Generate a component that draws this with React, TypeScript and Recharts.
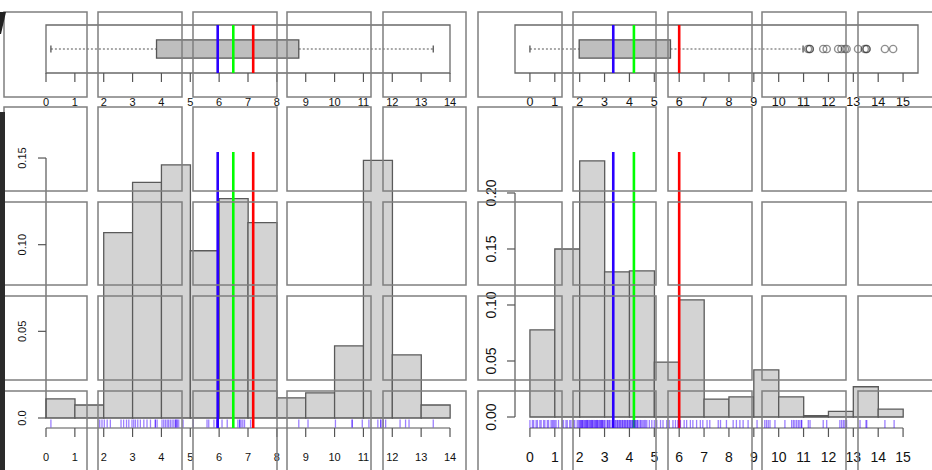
import {
  ComposedChart, Bar, Scatter, XAxis, YAxis, ReferenceLine, ReferenceArea
} from "recharts";

// ---- data ----
const binsLeft = ["0", "1", "2", "3", "4", "5", "6", "7", "8", "9", "10", "11", "12", "13"];
const densLeft = [0.011, 0.0075, 0.107, 0.136, 0.146, 0.0965, 0.1266, 0.1127, 0.0116, 0.0145, 0.0416, 0.1486, 0.0364, 0.0075];

const binsRight = ["0", "1", "2", "3", "4", "5", "6", "7", "8", "9", "10", "11", "12", "13", "14"];
const densRight = [0.0777, 0.15, 0.2286, 0.1295, 0.1304, 0.049, 0.1045, 0.016, 0.018, 0.042, 0.018, 0.0012, 0.005, 0.027, 0.007];

const xTicksLeft = [0, 1, 2, 3, 4, 5, 6, 7, 8, 9, 10, 11, 12, 13, 14];
const xTicksRight = [0, 1, 2, 3, 4, 5, 6, 7, 8, 9, 10, 11, 12, 13, 14, 15];

const yTicksLeft = [0, 0.05, 0.1, 0.15];
const yLabelsLeft = ["0.0", "0.05", "0.10", "0.15"];
const yTicksRight = [0, 0.05, 0.1, 0.15, 0.2];
const yLabelsRight = ["0.00", "0.05", "0.10", "0.15", "0.20"];

// whisker low, q1, q3, whisker high
const boxLeft = [0.17, 3.83, 8.76, 13.42];
const boxRight = [0.0, 1.98, 5.65, 10.98];
const outliersRight = [11.18, 11.25, 11.25, 11.79, 11.93, 12.39, 12.52, 12.66, 12.73, 13.19, 13.46, 13.53, 13.53, 14.27, 14.6];

// blue, green, red markers
const marksLeft = [5.95, 6.49, 7.18];
const marksRight = [3.35, 4.18, 6.0];
const markColors = ["#2a00ff", "#00ff00", "#ff0000"];

const rugLeft = [
  0.17, 1.86, 1.94, 2.02, 2.12, 2.23, 2.6, 2.69, 2.79, 2.87, 2.98, 3.04, 3.1, 3.18, 3.27,
  3.39, 3.5, 3.62, 3.79, 3.79, 3.85, 4.02, 4.08, 4.14, 4.2, 4.25, 4.31, 4.37, 4.43, 4.49,
  4.49, 4.54, 4.54, 4.6, 4.75, 5.1, 5.58, 5.64, 5.82, 5.91, 6.1, 6.28, 6.65, 6.71, 6.71,
  6.76, 6.82, 6.88, 7.09, 8.76, 9.08, 10.03, 10.61, 10.61, 10.96, 11.19, 11.5, 11.6, 11.6,
  11.69, 11.77, 12.27, 12.46, 12.58, 13.42,
];

const rugRight = [
  0.0, 0.1, 0.15, 0.25, 0.3, 0.4, 0.45, 0.55, 0.6, 0.7, 0.75, 0.85, 0.9, 0.95,
  1.0, 1.05, 1.15, 1.3, 1.35, 1.45, 1.5, 1.6, 1.65, 1.75, 1.8, 1.9, 1.95,
  2.0, 2.05, 2.1, 2.15, 2.2, 2.25, 2.3, 2.35, 2.4, 2.45, 2.5, 2.55, 2.6, 2.65, 2.7, 2.75, 2.8, 2.85, 2.9, 2.95,
  2.02, 2.12, 2.22, 2.32, 2.42, 2.52, 2.62, 2.72, 2.82, 2.92, 2.08, 2.28, 2.48, 2.68, 2.88,
  3.0, 3.1, 3.15, 3.2, 3.3, 3.35, 3.45, 3.5, 3.55, 3.6, 3.65, 3.7, 3.75, 3.8, 3.85, 3.9, 3.95,
  3.02, 3.12, 3.22, 3.42, 3.52, 3.62, 3.72, 3.82, 3.92,
  4.0, 4.05, 4.1, 4.15, 4.2, 4.25, 4.3, 4.35, 4.45, 4.5, 4.6, 4.7, 4.8, 4.9,
  4.02, 4.12, 4.22, 4.32, 4.42, 4.55, 4.65,
  5.0, 5.1, 5.25, 5.35, 5.5, 5.6, 5.75, 5.85, 5.95,
  6.05, 6.2, 6.3, 6.45, 6.55, 6.7, 6.85, 6.95,
  7.12, 7.23, 7.57, 7.66, 7.9, 8.17, 8.3, 8.44, 8.57, 8.77,
  9.13, 9.44, 9.51, 9.58, 9.65, 9.85,
  10.25, 10.52, 10.59, 10.65, 10.72, 10.79, 10.85, 10.92, 10.92, 11.19, 11.26,
  11.79, 11.93, 12.46, 12.53, 12.6, 12.66, 12.73, 13.27, 13.51, 13.54, 14.27, 14.64,
];

const FONT = "'Liberation Sans', Arial, sans-serif";
const AXIS = "#555";

const XTick = ({ x, y, payload, fs, dy }: any) => (
  <text x={x} y={y + dy} textAnchor="middle" dominantBaseline="central" fontSize={fs} fill="#111" fontFamily={FONT}>
    {payload.value}
  </text>
);

const YTick = ({ x, y, payload, fs, dx, ticks, labels }: any) => {
  const i = ticks.indexOf(payload.value);
  const cx = x + dx;
  return (
    <text x={cx} y={y} transform={`rotate(-90 ${cx} ${y})`} textAnchor="middle" dominantBaseline="central"
      fontSize={fs} fill="#111" fontFamily={FONT}>
      {labels[i]}
    </text>
  );
};

const RugTick = (p: any) => (
  <line x1={p.cx} x2={p.cx} y1={p.cy - 4} y2={p.cy + 4} stroke="#3a00ff" strokeOpacity={0.5} strokeWidth={1.3} />
);

const Outlier = (p: any) => (
  <circle cx={p.cx} cy={p.cy} r={3.6} fill="none" stroke="#333" strokeOpacity={0.55} strokeWidth={1.4} />
);

const Cap = (p: any) => (
  <line x1={p.cx} x2={p.cx} y1={p.cy - 3.5} y2={p.cy + 3.5} stroke={AXIS} strokeWidth={1.3} />
);

type BoxProps = {
  width: number; domain: number[]; ticks: number[]; stats: number[]; marks: number[];
  outliers?: number[]; margin: any; fs: number;
};

const BoxPanel = ({ width, domain, ticks, stats, marks, outliers = [], margin, fs }: BoxProps) => {
  const [lo, q1, q3, hi] = stats;
  const pts = outliers.map((v) => ({ x: v, y: 0.5 }));
  const caps = [{ x: lo, y: 0.5 }, { x: hi, y: 0.5 }];
  return (
    <ComposedChart width={width} height={120} margin={margin}>
      <XAxis dataKey="x" type="number" domain={domain} ticks={ticks} interval={0} tickSize={9} height={40}
        axisLine={false} tickLine={{ stroke: AXIS, strokeWidth: 1.2 }} allowDataOverflow
        tick={(p: any) => <XTick {...p} fs={fs} dy={18} />} />
      <YAxis dataKey="y" type="number" domain={[0, 1]} hide />
      <ReferenceArea x1={domain[0]} x2={domain[1]} y1={0} y2={1} fill="none" fillOpacity={0} stroke="#6a6a6a" strokeWidth={1.3} />
      <ReferenceLine segment={[{ x: lo, y: 0.5 }, { x: q1, y: 0.5 }]} stroke={AXIS} strokeDasharray="2 2" strokeWidth={1.2} />
      <ReferenceLine segment={[{ x: q3, y: 0.5 }, { x: hi, y: 0.5 }]} stroke={AXIS} strokeDasharray="2 2" strokeWidth={1.2} />
      <ReferenceArea x1={q1} x2={q3} y1={0.31} y2={0.69} fill="#bebebe" fillOpacity={1} stroke={AXIS} strokeWidth={1.3} />
      {marks.map((m, i) => (
        <ReferenceLine key={i} x={m} stroke={markColors[i]} strokeWidth={2.6} />
      ))}
      <Scatter data={caps} dataKey="y" shape={Cap} isAnimationActive={false} />
      {pts.length > 0 && <Scatter data={pts} dataKey="y" shape={Outlier} isAnimationActive={false} />}
    </ComposedChart>
  );
};

type HistProps = {
  width: number; bins: string[]; dens: number[]; domain: number[]; ticks: number[];
  yDomain: number[]; yTicks: number[]; yLabels: string[]; yTop: number;
  rug: number[]; rugY: number; marks: number[]; markTop: number; margin: any;
  padPx: number; fsX: number; fsY: number;
};

const HistPanel = (h: HistProps) => {
  const data = h.bins.map((b, i) => ({ bin: b, y: h.dens[i] }));
  const rugData = h.rug.map((v) => ({ x: v, y: h.rugY }));
  const yMin = h.yDomain[0];
  const x0 = h.ticks[0];
  const x1 = h.ticks[h.ticks.length - 1];
  return (
    <ComposedChart width={h.width} height={340} data={data} margin={h.margin} barCategoryGap={0} barGap={0}>
      <XAxis xAxisId="num" dataKey="x" type="number" domain={h.domain} ticks={h.ticks} interval={0} tickSize={9}
        height={30} axisLine={false} tickLine={{ stroke: AXIS, strokeWidth: 1.2 }} allowDataOverflow
        tick={(p: any) => <XTick {...p} fs={h.fsX} dy={17.5} />} />
      <XAxis xAxisId="bins" dataKey="bin" type="category" hide height={0} padding={{ left: h.padPx, right: h.padPx }} />
      <YAxis dataKey="y" type="number" domain={h.yDomain} ticks={h.yTicks} interval={0} width={40} tickSize={8}
        axisLine={false} tickLine={{ stroke: AXIS, strokeWidth: 1.2 }} allowDataOverflow
        tick={(p: any) => <YTick {...p} fs={h.fsY} dx={-13.5} ticks={h.yTicks} labels={h.yLabels} />} />
      <Bar xAxisId="bins" dataKey="y" fill="#d3d3d3" stroke="#5a5a5a" strokeWidth={1.3} isAnimationActive={false} />
      <ReferenceLine xAxisId="num" segment={[{ x: h.domain[0], y: 0 }, { x: h.domain[0], y: h.yTop }]} stroke={AXIS} strokeWidth={1.2} />
      <ReferenceLine xAxisId="num" segment={[{ x: x0, y: yMin }, { x: x1, y: yMin }]} stroke={AXIS} strokeWidth={1.2} />
      <Scatter xAxisId="num" data={rugData} dataKey="y" shape={RugTick} isAnimationActive={false} />
      {h.marks.map((m, i) => (
        <ReferenceLine key={i} xAxisId="num" segment={[{ x: m, y: yMin }, { x: m, y: h.markTop }]}
          stroke={markColors[i]} strokeWidth={2.6} />
      ))}
    </ComposedChart>
  );
};

// background frame grid seen over the plots
const gridCols = [[4, 87], [98, 182], [193, 277], [287, 371], [383, 466], [478, 562], [573, 656], [668, 752], [762, 846], [858, 950]];
const gridRows = [[12, 97], [107, 191], [202, 285], [296, 380], [391, 490]];

export default function App() {
  return (
    <div style={{ position: "absolute", left: 0, top: 0, width: 932, height: 470, overflow: "hidden", background: "#fff" }}>
      <div style={{ position: "absolute", left: 0, top: 0 }}>
        <BoxPanel width={470} domain={[0, 14]} ticks={xTicksLeft} stats={boxLeft} marks={marksLeft}
          margin={{ top: 25, right: 20, bottom: 7, left: 46 }} fs={11} />
      </div>
      <div style={{ position: "absolute", left: 470, top: 0 }}>
        <BoxPanel width={462} domain={[-0.6, 15.6]} ticks={xTicksRight} stats={boxRight} marks={marksRight}
          outliers={outliersRight} margin={{ top: 25, right: 14, bottom: 7, left: 45 }} fs={12.5} />
      </div>
      <div style={{ position: "absolute", left: 0, top: 130 }}>
        <HistPanel width={470} bins={binsLeft} dens={densLeft} domain={[0, 14]} ticks={xTicksLeft}
          yDomain={[-0.00577, 0.1604]} yTicks={yTicksLeft} yLabels={yLabelsLeft} yTop={0.15}
          rug={rugLeft} rugY={-0.0032} marks={marksLeft} markTop={0.1535}
          margin={{ top: 10, right: 20, bottom: 12, left: 6 }} padPx={0} fsX={11} fsY={11} />
      </div>
      <div style={{ position: "absolute", left: 470, top: 130 }}>
        <HistPanel width={462} bins={binsRight} dens={densRight} domain={[-0.6, 15.6]} ticks={xTicksRight}
          yDomain={[-0.00982, 0.2473]} yTicks={yTicksRight} yLabels={yLabelsRight} yTop={0.2}
          rug={rugRight} rugY={-0.0062} marks={marksRight} markTop={0.2366}
          margin={{ top: 10, right: 14, bottom: 12, left: 5 }} padPx={14.93} fsX={14} fsY={14} />
      </div>
      <svg width={932} height={470} style={{ position: "absolute", left: 0, top: 0, pointerEvents: "none" }}>
        {gridRows.map((r, ri) =>
          gridCols.map((c, ci) => (
            <rect key={`${ri}-${ci}`} x={c[0]} y={r[0]} width={c[1] - c[0]} height={r[1] - r[0]}
              fill="none" stroke="#7f7f7f" strokeWidth={1.5} />
          ))
        )}
        <rect x={0} y={112} width={5} height={360} fill="#2b2b2b" />
        <polygon points="0,12 6,12 1,34 0,34" fill="#222" />
      </svg>
    </div>
  );
}
